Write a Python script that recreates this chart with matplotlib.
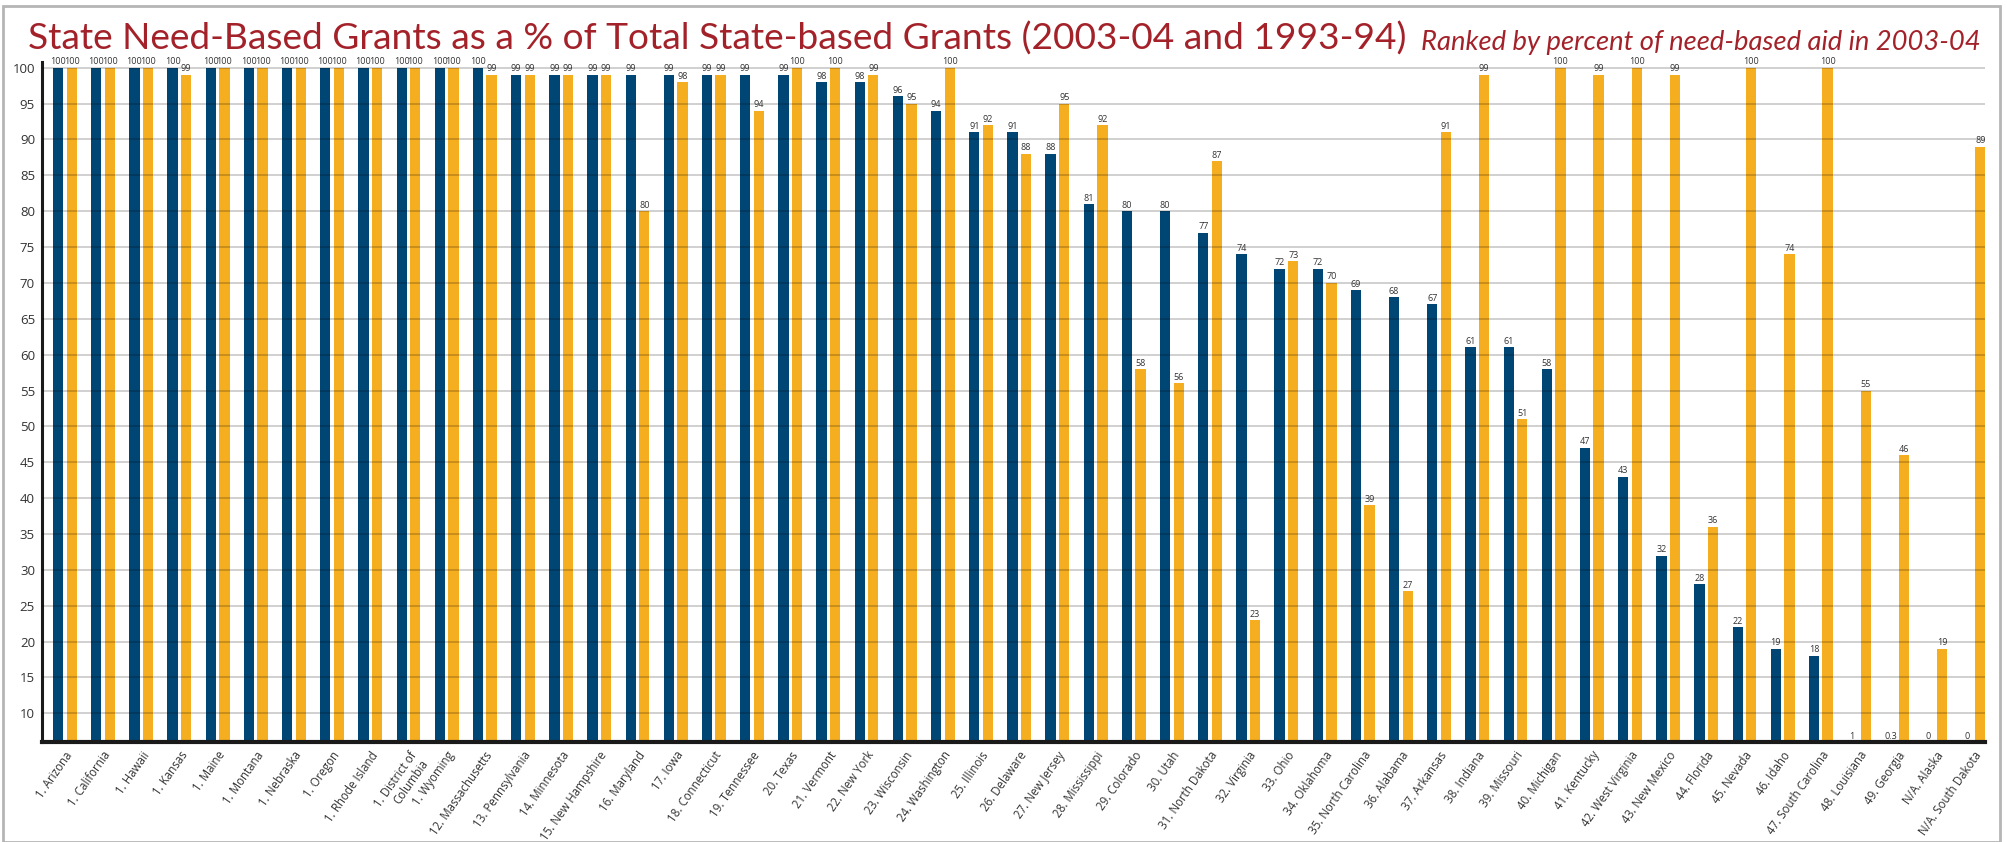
import matplotlib
matplotlib.use("Agg")
import matplotlib.pyplot as plt
from matplotlib import font_manager
from matplotlib.patches import Rectangle
import numpy as np

states = ['1. Arizona', '1. California', '1. Hawaii', '1. Kansas', '1. Maine',
          '1. Montana', '1. Nebraska', '1. Oregon', '1. Rhode Island',
          '1. District of\nColumbia', '1. Wyoming', '12. Massachusetts',
          '13. Pennsylvania', '14. Minnesota', '15. New Hampshire', '16. Maryland',
          '17. Iowa', '18. Connecticut', '19. Tennessee', '20. Texas', '21. Vermont',
          '22. New York', '23. Wisconsin', '24. Washington', '25. Illinois',
          '26. Delaware', '27. New Jersey', '28. Mississippi', '29. Colorado',
          '30. Utah', '31. North Dakota', '32. Virginia', '33. Ohio', '34. Oklahoma',
          '35. North Carolina', '36. Alabama', '37. Arkansas', '38. Indiana',
          '39. Missouri', '40. Michigan', '41. Kentucky', '42. West Virginia',
          '43. New Mexico', '44. Florida', '45. Nevada', '46. Idaho',
          '47. South Carolina', '48. Louisiana', '49. Georgia', 'N/A. Alaska',
          'N/A. South Dakota']
need_2003 = [100, 100, 100, 100, 100, 100, 100, 100, 100, 100, 100, 100,
             99, 99, 99, 99, 99, 99, 99, 99, 98, 98, 96, 94, 91, 91, 88, 81,
             80, 80, 77, 74, 72, 72, 69, 68, 67, 61, 61, 58, 47, 43, 32, 28,
             22, 19, 18, 1, 0.3, 0, 0]
need_1993 = [100, 100, 100, 99, 100, 100, 100, 100, 100, 100, 100, 99,
             99, 99, 99, 80, 98, 99, 94, 100, 100, 99, 95, 100, 92, 88, 95, 92,
             58, 56, 87, 23, 73, 70, 39, 27, 91, 99, 51, 100, 99, 100, 99, 36,
             100, 74, 100, 55, 46, 19, 89]
y_ticks = list(range(10, 101, 5))

BLUE = '#004675'
ORANGE = '#F5AE1F'
RED = '#A3222A'
TXT = '#333333'


def pick(names):
    for n in names:
        try:
            font_manager.findfont(font_manager.FontProperties(family=n),
                                  fallback_to_default=False)
            return n
        except ValueError:
            pass
    return 'DejaVu Sans'


head = pick(['Lato', 'Roboto', 'Open Sans'])
body = pick(['Open Sans', 'Lato', 'DejaVu Sans'])
plt.rcParams['font.family'] = [body, 'DejaVu Sans']

W, H = 2007, 842
fig = plt.figure(figsize=(W / 100, H / 100), dpi=100)
ax = fig.add_axes([42 / W, 1 - 742 / H, (1985 - 42) / W, (742 - 62) / H])

x = np.arange(len(states))
bw = 0.27
off = 0.178
ax.bar(x - off, need_2003, bw, color=BLUE, zorder=2)
ax.bar(x + off, need_1993, bw, color=ORANGE, zorder=2)

ylo, yhi = 6, 100.8
ax.set_ylim(ylo, yhi)
ax.set_xlim(-0.6, len(states) - 1 + 0.3)

# value labels (bars below the axis floor get their label on the floor)
for xi, a, b in zip(x, need_2003, need_1993):
    ax.text(xi - off, max(a, ylo) + 0.2, f'{a:g}', ha='center', va='bottom',
            fontsize=6.5, color=TXT, zorder=4)
    ax.text(xi + off, max(b, ylo) + 0.2, f'{b:g}', ha='center', va='bottom',
            fontsize=6.5, color=TXT, zorder=4)

ax.set_yticks(y_ticks)
ax.set_yticklabels([str(t) for t in y_ticks], fontsize=9.5, color=TXT)
ax.yaxis.grid(True, color='black', alpha=0.2, linewidth=1.3, zorder=3)
ax.set_axisbelow(False)
ax.tick_params(axis='both', length=0)
ax.tick_params(axis='y', pad=5)
ax.set_xticks(x)
ax.set_xticklabels(states, rotation=55, ha='right', rotation_mode='anchor',
                   fontsize=8.3, color=TXT)
ax.tick_params(axis='x', pad=5)

for s in ['top', 'right']:
    ax.spines[s].set_visible(False)
ax.spines['left'].set_linewidth(2.2)
ax.spines['bottom'].set_linewidth(3)
ax.spines['left'].set_color('#1a1a1a')
ax.spines['bottom'].set_color('#1a1a1a')

title = fig.text(28 / W, 1 - 50 / H,
                 'State Need-Based Grants as a % of Total State-based Grants (2003-04 and 1993-94)',
                 fontsize=30, color=RED, family=head, va='baseline', ha='left')
sub = fig.text(1421 / W, 1 - 50 / H, 'Ranked by percent of need-based aid in 2003-04',
               fontsize=18, color=RED, family=head, style='italic',
               va='baseline', ha='left')

fig.canvas.draw()
r = fig.canvas.get_renderer()
for t, target in [(title, 1380), (sub, 560)]:
    w = t.get_window_extent(r).width
    t.set_fontsize(t.get_fontsize() * target / w)

fig.patches.append(Rectangle((3 / W, 0), (2000 - 3) / W, 1 - 6 / H,
                             transform=fig.transFigure, fill=False,
                             edgecolor='#b5b5b5', linewidth=2))

fig.savefig('out.png', dpi=100)
